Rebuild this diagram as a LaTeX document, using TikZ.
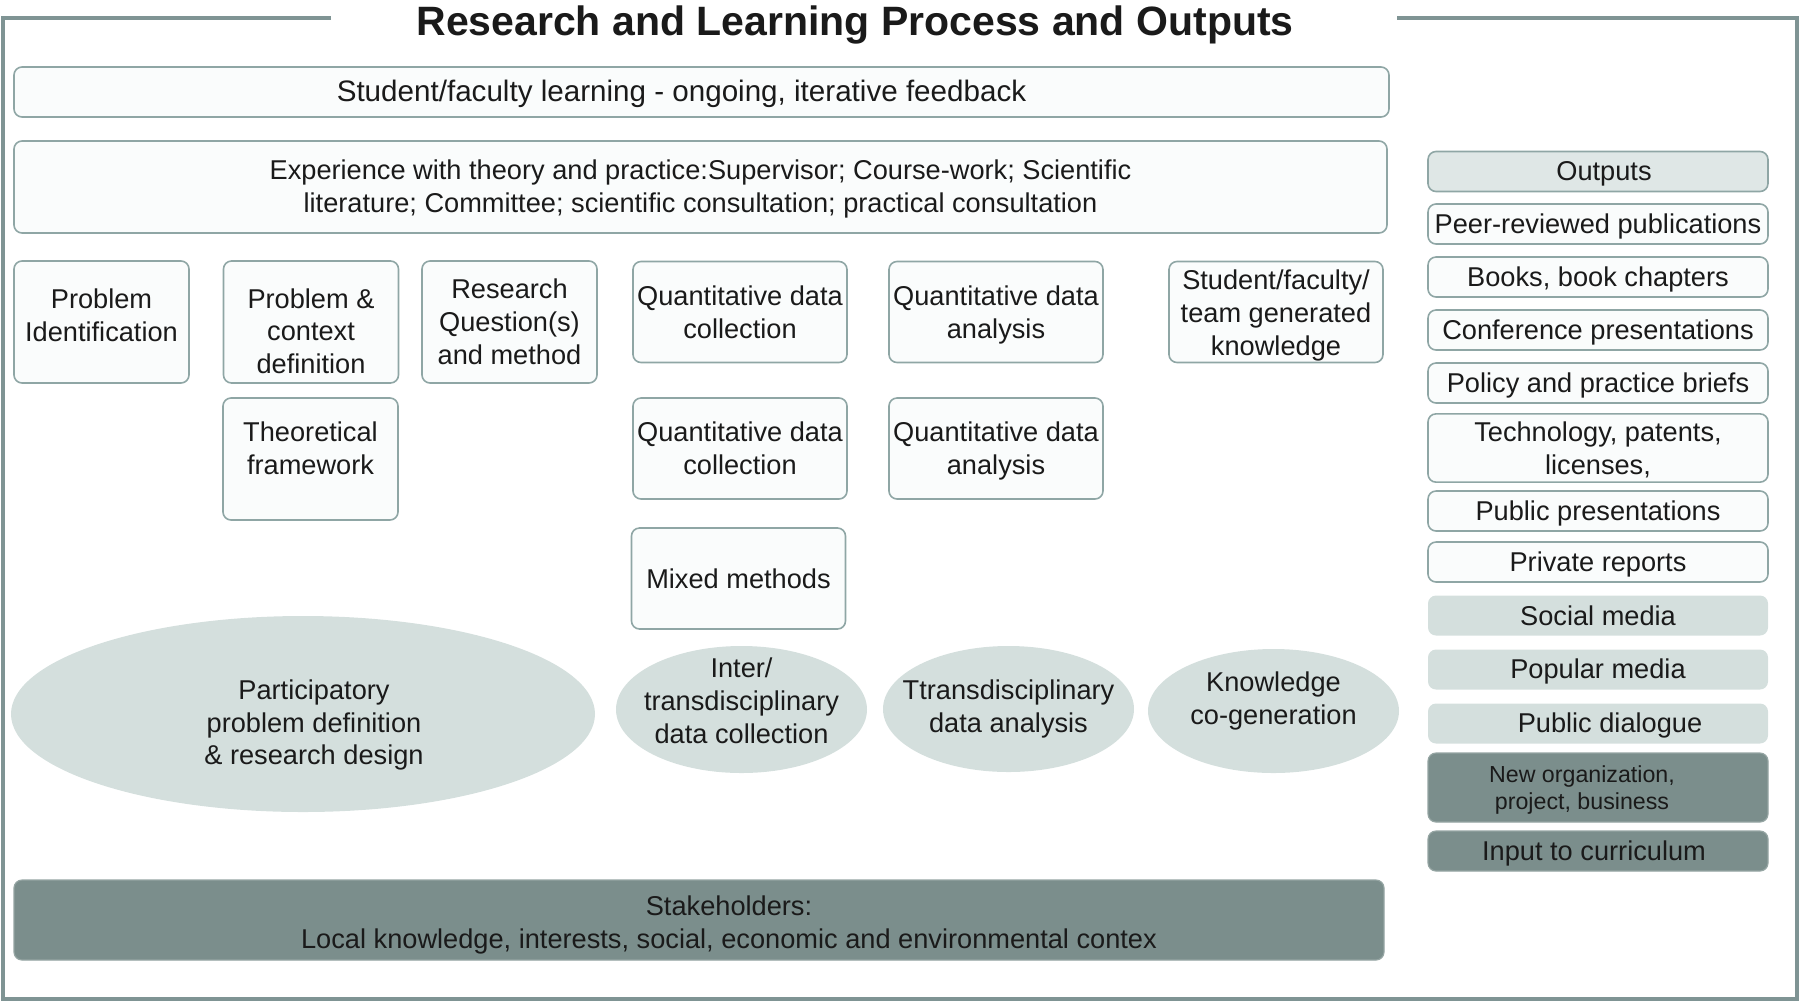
\documentclass[tikz,border=0pt]{standalone}
\usepackage{fontspec}
\setmainfont{Liberation Sans}
\usepackage{tikz}
\usetikzlibrary{shapes.geometric}
\definecolor{framegray}{HTML}{7F9494}
\definecolor{boxline}{HTML}{8FA6A5}
\definecolor{boxfill}{HTML}{FAFCFC}
\definecolor{outfill}{HTML}{DFE7E6}
\definecolor{palefill}{HTML}{D4DFDD}
\definecolor{darkfill}{HTML}{7B8E8C}
\definecolor{inkgray}{HTML}{1A1A1A}
\newcommand{\drop}[1]{\rule{0pt}{#1}}
\tikzset{
  every node/.style={font=\fontsize{13.6}{16.4}\selectfont, align=center, inner sep=2pt, text=inkgray},
  lift/.style={text depth=#1},
  stepbox/.style={draw=boxline, line width=0.8pt, fill=boxfill, rounded corners=4pt},
  tallbox/.style={stepbox, minimum width=87.5pt, minimum height=61pt},
  quantbox/.style={stepbox, minimum width=107pt, minimum height=50.5pt},
  outbox/.style={stepbox, minimum width=170pt, minimum height=20pt},
  mediabox/.style={fill=palefill, rounded corners=4pt, minimum width=170pt, minimum height=20pt},
  darkbox/.style={draw=darkfill!80!white, line width=0.6pt, fill=darkfill, rounded corners=4pt},
  bubble/.style={ellipse, fill=palefill, inner xsep=-10pt, inner ysep=-8pt}
}

\begin{document}
\begin{tikzpicture}[x=0.5pt, y=-0.5pt]
\useasboundingbox (0,0) rectangle (1800,1003);
% outer frame, open at the title
\draw[framegray, line width=2pt] (331,18) -- (3,18) -- (3,999) -- (1797,999) -- (1797,18) -- (1397,18);
\node (title) at (855,25) {\fontsize{20.5}{24}\selectfont\bfseries Research and Learning Process and Outputs};

% learning and experience bars
\node[stepbox, minimum width=687.5pt, minimum height=25pt, font=\fontsize{14.8}{17}\selectfont] (learning) at (701.5,92) {\drop{12.5pt}Student/faculty learning - ongoing, iterative feedback\hspace*{20pt}};
\node[stepbox, minimum width=686.5pt, minimum height=46pt] (experience) at (700.5,187) {\drop{12pt}Experience with theory and practice:Supervisor; Course-work; Scientific\\literature; Committee; scientific consultation; practical consultation};

% process steps
\node[tallbox, lift=7pt] (probid) at (101.5,322) {Problem\\Identification};
\node[tallbox] (probctx) at (311,322) {\drop{19pt}Problem \&\\context\\definition};
\node[tallbox, lift=11pt] (theory) at (310.5,459) {Theoretical\\framework};
\node[tallbox] (resq) at (509.5,322) {Research\\Question(s)\\and method};
\node[quantbox] (quantcoll) at (740,312) {Quantitative data\\collection};
\node[quantbox] (quantana) at (996,312) {\drop{13pt}Quantitative data\\analysis};
\node[quantbox, inner ysep=0pt] (knowgen) at (1276,312) {\drop{13.5pt}Student/faculty/\\team generated\\knowledge};
\node[quantbox] (quantcolltwo) at (740,448.5) {Quantitative data\\collection};
\node[quantbox] (quantanatwo) at (996,448.5) {\drop{12pt}Quantitative data\\analysis};
\node[quantbox] (mixed) at (738.5,578.5) {Mixed methods};

% participatory bubbles
\node[bubble, minimum width=292pt, minimum height=98pt] (partic) at (303,714) {\hspace*{11pt}\drop{21pt}Participatory\\\hspace*{11pt}problem definition\\\hspace*{11pt}\& research design};
\node[bubble, minimum width=125.5pt, minimum height=63.5pt, lift=9pt] (intercoll) at (741.5,709.5) {Inter/\\transdisciplinary\\data collection};
\node[bubble, minimum width=125.5pt, minimum height=63pt] (transana) at (1008.5,709) {Ttransdisciplinary\\data analysis};
\node[bubble, minimum width=125.5pt, minimum height=62pt, lift=13pt] (cogen) at (1273.5,711) {Knowledge\\co-generation};

\node[darkbox, minimum width=685pt, minimum height=40pt] (stake) at (699,920) {\hspace*{30pt}\drop{15pt}Stakeholders:\\\hspace*{30pt}Local knowledge, interests, social, economic and environmental contex};

% outputs column
\node[outbox, fill=outfill] (outputs) at (1598,171.5) {\hspace*{6pt}\drop{12pt}Outputs};
\node[outbox] (peer) at (1598,224) {\drop{12pt}Peer-reviewed publications};
\node[outbox] (books) at (1598,277) {\drop{12pt}Books, book chapters};
\node[outbox] (conf) at (1598,330) {\drop{12pt}Conference presentations};
\node[outbox] (policy) at (1598,383) {\drop{12pt}Policy and practice briefs};
\node[outbox, minimum height=32.5pt] (tech) at (1598,448) {\drop{12pt}Technology, patents,\\licenses,};
\node[outbox] (pubpres) at (1598,511) {\drop{12pt}Public presentations};
\node[outbox] (private) at (1598,562) {\drop{12pt}Private reports};
\node[mediabox] (social) at (1598,615.5) {Social media};
\node[mediabox] (popular) at (1598,669.5) {\drop{12pt}Popular media};
\node[mediabox] (dialogue) at (1598,723.5) {\hspace*{12pt}\drop{12pt}Public dialogue};
\node[darkbox, minimum width=170pt, minimum height=34.5pt, font=\fontsize{11.6}{13.8}\selectfont] (neworg) at (1598,787.5) {\drop{11pt}New organization,\hspace*{16pt}\\project, business\hspace*{16pt}};
\node[darkbox, minimum width=170pt, minimum height=20pt] (curric) at (1598,851) {\drop{12pt}Input to curriculum\hspace*{4pt}};
\end{tikzpicture}
\end{document}
